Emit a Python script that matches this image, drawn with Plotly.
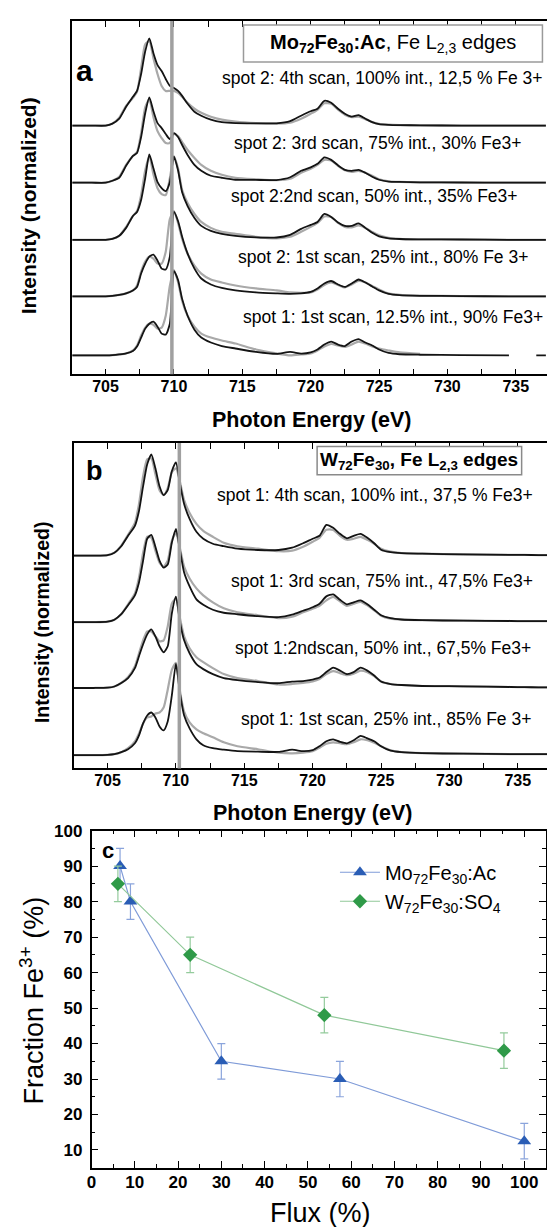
import plotly.graph_objects as go

# ---------------- data ----------------
energy = [702.5, 704.0, 705.0, 705.5, 706.0, 706.5, 707.0, 707.3, 707.6, 707.9, 708.2, 708.5,
          708.8, 709.1, 709.4, 709.7, 710.0, 710.3, 710.6, 711.0, 711.5, 712.0, 712.7, 713.5,
          714.5, 716.0, 717.5, 718.5, 719.3, 720.0, 720.5, 721.0, 721.5, 722.0, 722.5, 723.0,
          723.5, 724.0, 724.5, 725.0, 725.7, 726.5, 728.0, 731.0, 734.5, 735.5, 736.5, 737.2]

# Panel a (Mo72Fe30:Ac) - intensity (a.u.), black = measured, gray = fit/reference
a1_black = [0, 0, 0, 2, 7, 19, 29, 35, 52, 75, 88, 73, 61, 55, 47, 40, 38, 35, 30, 22, 14, 10, 6, 3.5, 2.5,
            2.3, 2.3, 4.5, 10, 14.5, 17, 25, 23, 17, 12, 9, 10.5, 7, 3.5, 1.5, 0.8, 0.5, 0.3, 0, 0, 0, 0, 0]
a1_gray = [0, 0, 0, 2, 8, 20, 28, 34, 58, 82, 85, 68, 52, 40, 35, 35, 35, 33, 29, 23, 17, 13, 9, 6, 4,
           2.5, 2, 3, 7, 12, 16, 22.5, 22, 16, 11, 8.5, 9, 6.5, 3.5, 1.8, 1, 0.6, 0.3, 0.1, 0, 0, 0, 0]
a2_black = [0, 0, 0, 2, 5, 17, 27, 30, 46, 70, 86, 72, 60, 55, 49, 44, 50, 46, 38, 28, 18, 12, 7, 5, 3,
            2.8, 2.7, 5.5, 12, 15.5, 19, 25.5, 23, 17.5, 13, 12, 13, 10, 6, 3, 1.2, 0.8, 0.4, 0.2, 0, 0, 0, 0]
a2_gray = [0, 0, 0, 2, 6, 18, 27, 31, 50, 76, 84, 66, 52, 45, 40, 40, 49, 47, 41, 33, 25, 18, 12, 8, 5,
           3.5, 2.5, 4, 10, 14, 18, 23, 22.5, 17, 12.5, 11, 12, 10, 7, 3.5, 1.5, 0.8, 0.4, 0.2, 0, 0, 0, 0]
a3_black = [0, 0, 0, 1, 4, 12, 24, 28, 40, 62, 86, 72, 58, 52, 49, 58, 84, 70, 48, 34, 22, 14, 9, 6, 4,
            2.5, 2.3, 5, 11, 15, 18, 26, 23, 17.5, 14, 14, 16.5, 12, 7, 3.5, 1.5, 0.8, 0.5, 0.3, 0, 0, 0, 0]
a3_gray = [0, 0, 0, 1, 4, 13, 24, 29, 45, 70, 84, 66, 52, 46, 45, 62, 84, 72, 50, 37, 26, 18, 12, 8, 6,
           3, 1.5, 3, 8, 13, 17, 23.5, 23, 17, 13, 12.5, 14.5, 12, 8, 4.5, 2, 1, 0.5, 0.3, 0, 0, 0, 0]
a4_black = [0, 0, 0, 0.5, 1.5, 3, 6, 9.5, 23, 33, 40, 42, 36, 28, 27, 40, 85, 76, 60, 43, 28, 18, 12, 8.5, 6,
            4, 3, 2.5, 3, 4.5, 8, 13, 15.5, 12, 9.5, 13, 17, 14, 10, 6, 2.5, 1.2, 0.6, 0.3, 0, 0, 0, 0]
a4_gray = [0, 0, 0, 0.5, 1.5, 3, 6, 11, 25, 35, 40, 38, 33, 33, 45, 78, 86, 74, 58, 43, 31, 23, 17, 14, 11,
           8, 6, 4, 3.5, 4, 7, 11.5, 14, 11.5, 9, 12, 15.5, 14, 10.5, 7, 3, 1.5, 0.7, 0.3, 0, 0, 0, 0]
a5_black = [0, 0, 0, 0.3, 1, 2, 4.5, 9, 18, 27, 32, 34, 29, 22, 21, 32, 85, 76, 57, 40, 26, 18, 13, 9.5, 7,
            3.5, 1.5, 3.5, 1.8, 3, 6, 11, 14, 11, 9.5, 14, 16.5, 13, 10, 6, 2.5, 1.2, 0.7, 0.3, 0, None, 0, 0]
a5_gray = [0, 0, 0, 0.3, 1, 2, 5, 10, 20, 28, 32, 31, 27, 28, 40, 70, 86, 74, 55, 40, 29, 22, 18, 15, 12,
           6, 2, 0, 1, 2, 5, 9, 11.5, 10, 8.5, 11, 14, 12, 9, 7, 5, 3, 1.5, None, None, None, None, None]

# Panel b (W72Fe30)
b1_black = [0, 0, 0.5, 3, 9.5, 20, 30, 45, 70, 92, 102, 88, 70, 61, 66, 85, 94, 72, 52, 37, 24, 17, 12, 9.5, 7,
            5.7, 5.7, 8, 12.5, 17, 20, 31, 28, 22, 17.5, 20, 22, 18, 12.5, 6, 3.5, 2.5, 2, 1.3, 0.8, 0.7, 0.6, 0.5]
b1_gray = [0, 0, 0.5, 3, 10, 21, 33, 52, 80, 97, 98, 82, 66, 61, 68, 84, 88, 74, 56, 43, 32, 25, 19, 13, 9.5,
           7, 4.5, 5, 9, 14, 18, 26, 26, 20, 16, 17, 19, 16, 12, 7, 4, 2.5, 2, 1.3, 0.8, 0.7, 0.6, 0.5]
b2_black = [0, 0, 0.5, 2.5, 8, 17, 27, 40, 62, 84, 88, 76, 62, 55, 58, 80, 94, 72, 50, 36, 23, 17.5, 12.5, 9.5, 8,
            6, 5, 7.5, 11.5, 15, 18.5, 26, 28, 22.5, 18, 20, 22, 18, 12.5, 7, 4, 2.7, 2, 1.5, 1.2, 1, 1, 1]
b2_gray = [0, 0, 0.5, 2.5, 8, 18, 29, 45, 70, 86, 85, 72, 60, 56, 62, 82, 90, 74, 56, 44, 34, 27, 20, 14, 10,
           7, 4, 5.5, 10, 13.5, 16.5, 22, 25.5, 21, 16.5, 18.5, 20.5, 17, 12, 6.5, 3.5, 2.5, 2, 1.5, 1.2, 1, 1, 1]
b3_black = [0, 0, 0.3, 1.5, 5, 10, 20, 32, 44, 54, 59, 52, 42, 36, 42, 75, 92, 66, 48, 35, 24, 19, 14, 10, 8,
            6, 4.8, 6.5, 7, 8.5, 10.5, 16, 20.5, 17.5, 14, 16, 20.5, 17.5, 12.5, 6.5, 4, 3, 2, 1.7, 1, 0.8, 0.7, 0.7]
b3_gray = [0, 0, 0.3, 1.5, 5, 11, 22, 35, 48, 57, 57, 52, 47, 48, 62, 85, 90, 70, 52, 40, 31, 26, 20, 14, 10,
           7, 3.5, 4, 5, 6.5, 9, 14, 17, 15, 13, 14.5, 17.5, 16, 12, 6.5, 4, 3, 2, 1.7, 1, 0.8, 0.7, 0.7]
b4_black = [0, 0, 0.3, 1, 3, 6, 12, 20, 32, 40, 43, 38, 29, 25, 34, 60, 92, 62, 40, 27, 16, 10, 7, 5.5, 4,
            3.5, 3.3, 5.5, 4, 5, 9, 14, 16, 13.5, 12, 15, 19.5, 17, 14, 9, 4.5, 3, 2, 1.5, 1, 1, 1, 1]
b4_gray = [0, 0, 0.3, 1, 3, 7, 14, 22, 32, 38, 39, 42, 43, 48, 66, 86, 93, 64, 44, 33, 26, 22, 18, 13, 9,
           6, 2.5, 1.8, 2.5, 4, 7.5, 11.5, 13, 12, 11, 13, 16, 15, 12.5, 9, 5, 3, 2, 1.5, 1, 1, 1, 1]

a_offsets = [250.5, 193, 135.5, 78.5, 19]
b_offsets = [214.3, 147.3, 81, 13.3]
a_ref_line = 709.85
b_ref_line = 710.25

a_labels = ["spot 2: 4th scan, 100% int., 12,5 % Fe 3+",
            "spot 2: 3rd scan, 75% int., 30% Fe3+",
            "spot 2:2nd scan, 50% int., 35% Fe3+",
            "spot 2: 1st scan, 25% int., 80% Fe 3+",
            "spot 1: 1st scan, 12.5% int., 90% Fe3+"]
b_labels = ["spot 1: 4th scan, 100% int., 37,5 % Fe3+",
            "spot 1: 3rd scan, 75% int., 47,5% Fe3+",
            "spot 1:2ndscan, 50% int., 67,5% Fe3+",
            "spot 1: 1st scan, 25% int., 85% Fe 3+"]

# Panel c
mo_flux = [6.6, 9.0, 30.0, 57.4, 100.0]
mo_fe3 = [90, 80, 35, 30, 12.5]
mo_err = [5, 5, 5, 5, 5]
w_flux = [6.1, 22.8, 53.8, 95.3]
w_fe3 = [85, 65, 48, 38]
w_err = [5, 5, 5, 5]

# ---------------- figure ----------------
W, H = 547, 1227
FONT = "Liberation Sans, Arial, sans-serif"


def px(x):
    return x / W


def py(y):
    return 1 - y / H


def shifted(vals, off):
    return [None if v is None else v + off for v in vals]


fig = go.Figure()

a_sets = [(a1_black, a1_gray), (a2_black, a2_gray), (a3_black, a3_gray), (a4_black, a4_gray), (a5_black, a5_gray)]
b_sets = [(b1_black, b1_gray), (b2_black, b2_gray), (b3_black, b3_gray), (b4_black, b4_gray)]

for sets, offs, xa, ya in [(a_sets, a_offsets, "x", "y"), (b_sets, b_offsets, "x2", "y2")]:
    for (blk, gry), off in zip(sets, offs):
        fig.add_trace(go.Scatter(x=energy, y=shifted(gry, off), mode="lines",
                                 line=dict(color="#a9a9a9", width=2.2, shape="spline", smoothing=0.6),
                                 xaxis=xa, yaxis=ya, showlegend=False, hoverinfo="skip"))
    for (blk, gry), off in zip(sets, offs):
        fig.add_trace(go.Scatter(x=energy, y=shifted(blk, off), mode="lines",
                                 line=dict(color="#141414", width=1.8, shape="spline", smoothing=0.6),
                                 xaxis=xa, yaxis=ya, showlegend=False, hoverinfo="skip"))

fig.add_trace(go.Scatter(x=mo_flux, y=mo_fe3, mode="lines+markers",
                         name="Mo<sub>72</sub>Fe<sub>30</sub>:Ac",
                         line=dict(color="#7f9bd8", width=1.2),
                         marker=dict(symbol="triangle-up", size=12, color="#2a5db5"),
                         error_y=dict(type="data", array=mo_err, color="#8aa4dc", thickness=1.2, width=4),
                         xaxis="x3", yaxis="y3"))
fig.add_trace(go.Scatter(x=w_flux, y=w_fe3, mode="lines+markers",
                         name="W<sub>72</sub>Fe<sub>30</sub>:SO<sub>4</sub>",
                         line=dict(color="#90c898", width=1.2),
                         marker=dict(symbol="diamond", size=11, color="#2f9a48"),
                         error_y=dict(type="data", array=w_err, color="#94cb9c", thickness=1.2, width=4),
                         xaxis="x3", yaxis="y3"))

tickfont = dict(family=FONT, size=16, color="black", weight="bold")
tickfont_c = dict(family=FONT, size=17, color="black", weight="bold")
spec_x = dict(dtick=5, tick0=705, ticks="inside", ticklen=6, tickwidth=1.3, tickcolor="black",
              showline=True, linecolor="black", linewidth=1.5, mirror="ticks",
              minor=dict(dtick=2.5, tick0=705, ticks="inside", ticklen=6, tickwidth=1.3, tickcolor="black"),
              tickfont=tickfont, showgrid=False, zeroline=False, ticklabelstandoff=-3)
spec_y = dict(showticklabels=False, ticks="", showline=True, linecolor="black", linewidth=1.5,
              mirror=False, showgrid=False, zeroline=False)

fig.update_layout(
    width=W, height=H, margin=dict(l=0, r=0, t=0, b=0),
    paper_bgcolor="white", plot_bgcolor="white",
    font=dict(family=FONT, color="black"),
    xaxis=dict(domain=[px(68), 1.0], range=[702.573, 737.283], anchor="y", **spec_x),
    yaxis=dict(domain=[py(368), py(12)], range=[0, 356], anchor="x", **spec_y),
    xaxis2=dict(domain=[px(69.3), 1.0], range=[702.522, 737.138], anchor="y2", **spec_x),
    yaxis2=dict(domain=[py(765), py(437.3)], range=[0, 327.7], anchor="x2", **spec_y),
    xaxis3=dict(domain=[px(87.3), px(545.9)], range=[0, 105], anchor="y3", dtick=10, tick0=0,
                ticks="inside", ticklen=7, tickwidth=1.3, tickcolor="black",
                minor=dict(dtick=5, ticks="inside", ticklen=4, tickwidth=1.3, tickcolor="black"),
                showline=True, linecolor="black", linewidth=1.5, mirror="ticks",
                tickfont=tickfont_c, showgrid=False, zeroline=False, ticklabelstandoff=-2),
    yaxis3=dict(domain=[py(1167.3), py(827.7)], range=[5, 100], anchor="x3", tickvals=list(range(10, 101, 10)),
                ticks="inside", ticklen=7, tickwidth=1.3, tickcolor="black",
                minor=dict(dtick=5, tick0=5, ticks="inside", ticklen=4, tickwidth=1.3, tickcolor="black"),
                showline=True, linecolor="black", linewidth=1.5, mirror="ticks",
                tickfont=tickfont_c, showgrid=False, zeroline=False, ticklabelstandoff=4),
    showlegend=True,
    legend=dict(x=px(333), y=py(850), xanchor="left", yanchor="top", bgcolor="rgba(0,0,0,0)",
                font=dict(family=FONT, size=20, color="black"), itemwidth=40, tracegroupgap=0),
)

shapes = [
    dict(type="line", xref="x", yref="y domain", x0=a_ref_line, x1=a_ref_line, y0=0, y1=1,
         line=dict(color="#a0a0a0", width=3.5), layer="above"),
    dict(type="line", xref="x2", yref="y2 domain", x0=b_ref_line, x1=b_ref_line, y0=0, y1=1,
         line=dict(color="#a0a0a0", width=3.5), layer="above"),
    dict(type="rect", xref="paper", yref="paper", x0=px(240.7), x1=px(542.4), y0=py(53.3), y1=py(16),
         line=dict(color="#9a9a9a", width=1.5), fillcolor="white"),
    dict(type="rect", xref="paper", yref="paper", x0=px(315), x1=px(521.4), y0=py(469.3), y1=py(440.7),
         line=dict(color="#8a8a8a", width=1.5), fillcolor="white"),
]
fig.update_layout(shapes=shapes)

ann = []


def add_text(text, x, y, size, xanchor="center", angle=0):
    ann.append(dict(text=text, x=px(x), y=py(y), xref="paper", yref="paper", showarrow=False,
                    xanchor=xanchor, yanchor="middle", textangle=angle,
                    font=dict(family=FONT, size=size, color="black")))


a_label_pos = [(545, 70), (522.7, 135), (520, 188.3), (530, 250), (545, 310)]
for t, (x, y) in zip(a_labels, a_label_pos):
    add_text(t, x, y, 17.5, xanchor="right")
b_label_pos = [(535, 490), (535, 576), (533.3, 643.3), (533.3, 715)]
for t, (x, y) in zip(b_labels, b_label_pos):
    add_text(t, x, y, 17.5, xanchor="right")

add_text("<b>Mo<sub>72</sub>Fe<sub>30</sub>:Ac</b>, Fe L<sub>2,3</sub> edges", 391.5, 34.7, 20)
add_text("<b>W<sub>72</sub>Fe<sub>30</sub>, Fe L<sub>2,3</sub> edges</b>", 418, 455, 19)

add_text("<b>a</b>", 80, 62, 30)
add_text("<b>b</b>", 90, 465, 27)
add_text("<b>c</b>", 104, 848, 22)

add_text("<b>Photon Energy (eV)</b>", 309, 414, 21.5)
add_text("<b>Photon Energy (eV)</b>", 310, 810, 21.5)
add_text("<b>Intensity (normalized)</b>", 24, 198, 21, angle=-90)
add_text("<b>Intensity (normalized)</b>", 38, 618, 19.5, angle=-90)
add_text("Flux (%)", 318, 1213, 27)
add_text("Fraction Fe<sup>3+</sup> (%)", 27, 999, 27, angle=-90)

fig.update_layout(annotations=ann)

fig.write_html("out.html", config={"displayModeBar": False},
               post_script="document.body.style.margin='0';document.body.style.padding='0';"
                           "document.documentElement.style.overflow='hidden';"
                           "document.body.style.overflow='hidden';")
